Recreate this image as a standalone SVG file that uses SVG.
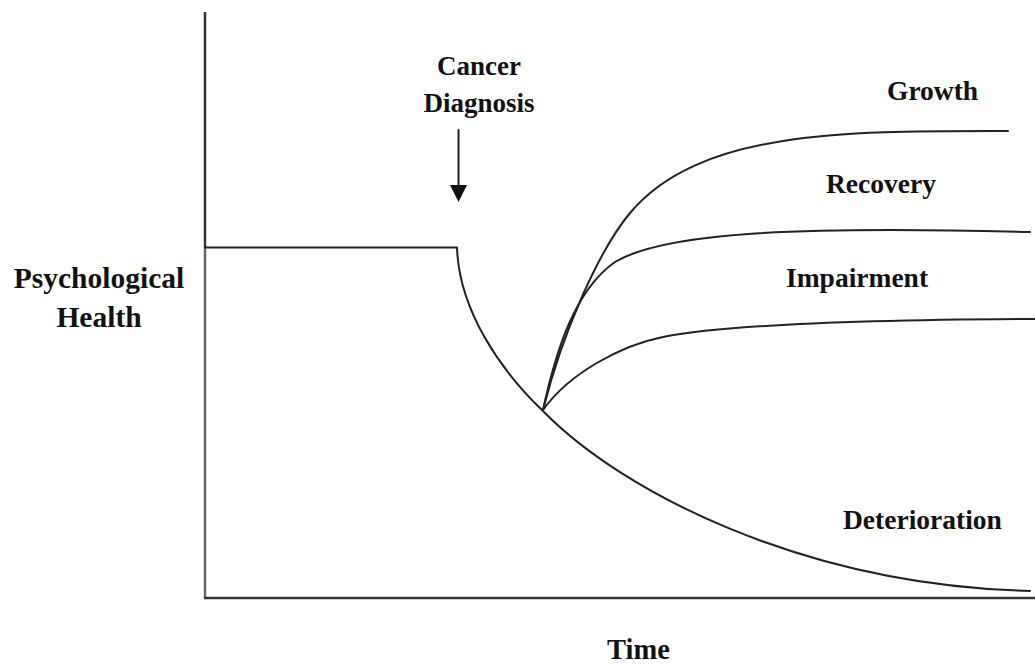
<svg xmlns="http://www.w3.org/2000/svg" width="1035" height="665" viewBox="0 0 1035 665">
<style>
text{font-family:"Liberation Serif","Times New Roman",serif;font-weight:bold;fill:#111;}
.c{fill:none;stroke:#222;stroke-width:2;stroke-linecap:round;stroke-linejoin:round;}
.ax{fill:none;stroke:#333;stroke-width:2.5;}
</style>
<rect width="1035" height="665" fill="#fff"/>
<g id="axes">
<line class="ax" x1="205" y1="12" x2="205" y2="248"/>
<line class="ax" x1="205" y1="248" x2="205" y2="598" style="stroke:#666"/>
<line class="ax" x1="204" y1="598" x2="1035" y2="598"/>
</g>
<g id="connectors">
<path id="baseline-deterioration" class="c" d="M205,247.5 H457 C459,310 500,370 543,411 C620,490 800,585 1030,591"/>
<path id="growth" class="c" d="M543,410 C563,330 600,249 630,213 C700,129 850,131 1008,131"/>
<path id="recovery" class="c" d="M543,410 C556,350 575,290 615,262 C665,232 800,226 1030,232"/>
<path id="impairment" class="c" d="M543,410 C570,372 623,345 663,337 C723,325 850,320 1035,319"/>
<line class="c" x1="458.5" y1="130" x2="458.5" y2="188"/>
<polygon points="450,185 467,185 458.5,202" fill="#111"/>
</g>
<g id="label-diagnosis">
<text x="479" y="75" font-size="27" text-anchor="middle">Cancer</text>
<text x="479" y="112" font-size="27" text-anchor="middle">Diagnosis</text>
</g>
<g id="label-yaxis">
<text x="99" y="288" font-size="29.5" text-anchor="middle">Psychological</text>
<text x="99" y="327" font-size="29.5" text-anchor="middle">Health</text>
</g>
<g id="label-growth"><text x="887" y="100" font-size="27.5">Growth</text></g>
<g id="label-recovery"><text x="826" y="193" font-size="27.5">Recovery</text></g>
<g id="label-impairment"><text x="786" y="287" font-size="27.5">Impairment</text></g>
<g id="label-deterioration"><text x="843" y="529" font-size="27.5">Deterioration</text></g>
<g id="label-time"><text x="607" y="659" font-size="28.5">Time</text></g>
</svg>
